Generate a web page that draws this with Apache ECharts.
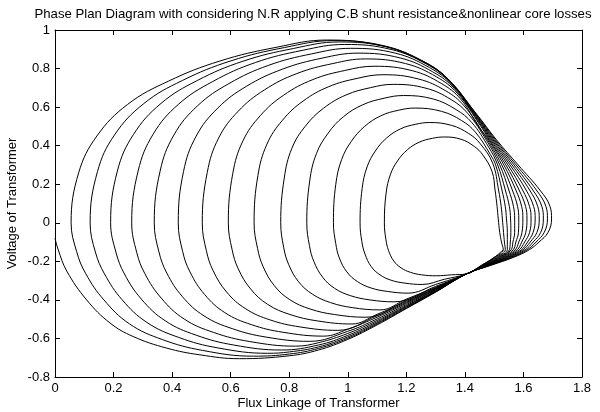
<!DOCTYPE html>
<html>
<head>
<meta charset="utf-8">
<title>Phase Plan Diagram</title>
<script src="https://cdn.jsdelivr.net/npm/echarts@6/dist/echarts.min.js"></script>
<style>
  html, body { margin: 0; padding: 0; background: #fff; }
  #phase { width: 600px; height: 412px; }
</style>
</head>
<body>
<div id="phase"></div>
<script>
// 标题 / 坐标轴名称
const titleText = "Phase Plan Diagram with considering N.R applying C.B shunt resistance&nonlinear core losses";
const xName = "Flux Linkage of Transformer";
const yName = "Voltage of Transformer";
// 刻度范围
const xRange = [0, 1.8, 0.2];
const yRange = [-0.8, 1, 0.2];

// 下半圈 (从左侧 y=0 处下行, 汇合到 (1.406,-0.265))
const bottomArcs = [
  [[0,-0.08],[0.011,-0.14],[0.04,-0.25],[0.108,-0.40],[0.188,-0.52],[0.267,-0.59],[0.381,-0.65],[0.495,-0.685],[0.63,-0.705],[0.8,-0.69],[0.9,-0.66],[1.0,-0.605],[1.1,-0.53],[1.2,-0.445],[1.3,-0.36],[1.406,-0.265]],
  [[0.055,0],[0.074,-0.15],[0.105,-0.264],[0.167,-0.4],[0.254,-0.524],[0.367,-0.606],[0.504,-0.662],[0.678,-0.692],[0.8,-0.681],[0.9,-0.652],[1.0,-0.599],[1.1,-0.525],[1.2,-0.442],[1.3,-0.358],[1.406,-0.265]],
  [[0.12,0],[0.138,-0.152],[0.169,-0.265],[0.229,-0.399],[0.314,-0.517],[0.423,-0.595],[0.556,-0.649],[0.726,-0.677],[0.8,-0.670],[0.9,-0.644],[1.0,-0.592],[1.1,-0.52],[1.2,-0.438],[1.3,-0.357],[1.406,-0.265]],
  [[0.19,0],[0.208,-0.152],[0.237,-0.265],[0.295,-0.396],[0.377,-0.509],[0.482,-0.583],[0.61,-0.634],[0.774,-0.66],[0.9,-0.634],[1.0,-0.584],[1.1,-0.514],[1.2,-0.434],[1.3,-0.355],[1.406,-0.265]],
  [[0.262,0],[0.279,-0.153],[0.307,-0.264],[0.363,-0.391],[0.441,-0.499],[0.542,-0.569],[0.665,-0.616],[0.822,-0.64],[0.9,-0.622],[1.0,-0.574],[1.1,-0.507],[1.2,-0.43],[1.3,-0.352],[1.406,-0.265]],
  [[0.339,0],[0.355,-0.151],[0.382,-0.261],[0.435,-0.383],[0.509,-0.483],[0.605,-0.549],[0.721,-0.593],[0.87,-0.615],[1.0,-0.563],[1.1,-0.499],[1.2,-0.424],[1.3,-0.349],[1.406,-0.265]],
  [[0.421,0],[0.436,-0.149],[0.461,-0.255],[0.511,-0.372],[0.58,-0.466],[0.67,-0.528],[0.779,-0.568],[0.918,-0.588],[1.0,-0.552],[1.1,-0.49],[1.2,-0.418],[1.3,-0.346],[1.406,-0.265]],
  [[0.503,0],[0.517,-0.145],[0.54,-0.248],[0.586,-0.359],[0.651,-0.446],[0.735,-0.504],[0.836,-0.54],[0.966,-0.558],[1.1,-0.482],[1.2,-0.413],[1.3,-0.343],[1.406,-0.265]],
  [[0.592,0],[0.605,-0.14],[0.626,-0.239],[0.668,-0.343],[0.727,-0.424],[0.803,-0.476],[0.896,-0.509],[1.014,-0.525],[1.1,-0.475],[1.2,-0.408],[1.3,-0.341],[1.406,-0.265]],
  [[0.68,0],[0.692,-0.134],[0.711,-0.228],[0.749,-0.326],[0.802,-0.399],[0.871,-0.447],[0.955,-0.476],[1.062,-0.49],[1.2,-0.403],[1.3,-0.338],[1.406,-0.265]],
  [[0.771,0],[0.781,-0.127],[0.798,-0.216],[0.832,-0.306],[0.88,-0.371],[0.941,-0.414],[1.015,-0.44],[1.11,-0.452],[1.2,-0.396],[1.3,-0.335],[1.406,-0.265]],
  [[0.86,0],[0.869,-0.118],[0.884,-0.2],[0.914,-0.282],[0.955,-0.34],[1.009,-0.378],[1.075,-0.4],[1.158,-0.41],[1.3,-0.33],[1.406,-0.265]],
  [[0.951,0],[0.959,-0.108],[0.971,-0.182],[0.997,-0.255],[1.033,-0.305],[1.079,-0.338],[1.135,-0.356],[1.206,-0.365],[1.3,-0.32],[1.406,-0.265]],
  [[1.042,0],[1.048,-0.097],[1.059,-0.163],[1.08,-0.227],[1.11,-0.27],[1.148,-0.298],[1.195,-0.313],[1.254,-0.32],[1.33,-0.293],[1.406,-0.265]],
  [[1.125,0],[1.13,-0.085],[1.139,-0.143],[1.157,-0.198],[1.182,-0.234],[1.214,-0.257],[1.252,-0.27],[1.302,-0.275],[1.354,-0.27],[1.406,-0.265]]
];

// 汇合点到右侧尖端
const noseRise = [
  [[1.49,-0.22],[1.565,-0.18],[1.62,-0.14],[1.653,-0.1],[1.684,-0.05],[1.696,0.02]],
  [[1.4875,-0.22],[1.56,-0.18],[1.613,-0.14],[1.643,-0.1],[1.671,-0.05],[1.682,0.02]],
  [[1.485,-0.22],[1.555,-0.18],[1.606,-0.14],[1.633,-0.1],[1.659,-0.05],[1.668,0.02]],
  [[1.4825,-0.22],[1.55,-0.18],[1.599,-0.14],[1.623,-0.1],[1.646,-0.05],[1.654,0.02]],
  [[1.48,-0.22],[1.545,-0.18],[1.593,-0.14],[1.614,-0.1],[1.633,-0.05],[1.64,0.02]],
  [[1.4775,-0.22],[1.54,-0.18],[1.586,-0.14],[1.604,-0.1],[1.621,-0.05],[1.626,0.02]],
  [[1.475,-0.22],[1.535,-0.18],[1.579,-0.14],[1.594,-0.1],[1.608,-0.05],[1.612,0.02]],
  [[1.4725,-0.22],[1.53,-0.18],[1.572,-0.14],[1.584,-0.1],[1.595,-0.05],[1.598,0.02]],
  [[1.47,-0.22],[1.525,-0.18],[1.565,-0.14],[1.574,-0.1],[1.583,-0.05],[1.584,0.02]],
  [[1.4675,-0.22],[1.52,-0.18],[1.558,-0.14],[1.564,-0.1],[1.57,-0.05],[1.57,0.02]],
  [[1.465,-0.22],[1.515,-0.18],[1.552,-0.14],[1.555,-0.1],[1.557,-0.05],[1.556,0.02]],
  [[1.4625,-0.22],[1.51,-0.18],[1.545,-0.14],[1.545,-0.1],[1.545,-0.05],[1.542,0.02]],
  [[1.46,-0.22],[1.505,-0.18],[1.538,-0.14],[1.535,-0.1],[1.532,-0.05],[1.528,0.02]],
  [[1.4575,-0.22],[1.5,-0.18],[1.531,-0.14],[1.525,-0.1],[1.519,-0.05],[1.514,0.02]]
];

// 右侧上升到顶点
const rightSide = [
  [[1.691,0.084],[1.656,0.17],[1.582,0.3],[1.508,0.43],[1.44,0.564],[1.338,0.749],[1.246,0.844],[1.109,0.921],[0.93,0.948]],
  [[1.677,0.084],[1.644,0.17],[1.575,0.3],[1.504,0.43],[1.4395,0.562],[1.342,0.747],[1.253,0.841],[1.121,0.919],[0.95,0.945]],
  [[1.663,0.084],[1.632,0.17],[1.568,0.3],[1.5,0.43],[1.439,0.558],[1.345,0.741],[1.261,0.835],[1.134,0.912],[0.97,0.938]],
  [[1.649,0.084],[1.621,0.17],[1.561,0.3],[1.496,0.43],[1.4405,0.55],[1.35,0.731],[1.269,0.823],[1.148,0.899],[0.99,0.925]],
  [[1.635,0.084],[1.609,0.17],[1.554,0.3],[1.492,0.43],[1.444,0.538],[1.357,0.715],[1.279,0.805],[1.162,0.88],[1.01,0.905]],
  [[1.621,0.084],[1.597,0.17],[1.547,0.3],[1.488,0.43],[1.447,0.524],[1.365,0.695],[1.29,0.783],[1.179,0.855],[1.035,0.88]],
  [[1.6075,0.084],[1.585,0.17],[1.54,0.3],[1.484,0.43],[1.452,0.506],[1.374,0.672],[1.303,0.757],[1.197,0.826],[1.06,0.85]],
  [[1.594,0.084],[1.574,0.17],[1.533,0.3],[1.479,0.435],[1.446,0.5],[1.386,0.641],[1.319,0.723],[1.22,0.789],[1.09,0.812]],
  [[1.58,0.084],[1.562,0.17],[1.526,0.3],[1.466,0.457],[1.397,0.607],[1.335,0.684],[1.241,0.746],[1.12,0.768]],
  [[1.566,0.084],[1.55,0.17],[1.519,0.3],[1.474,0.427],[1.41,0.567],[1.353,0.639],[1.267,0.698],[1.155,0.718]],
  [[1.552,0.084],[1.538,0.17],[1.512,0.3],[1.481,0.393],[1.423,0.521],[1.37,0.587],[1.292,0.642],[1.19,0.66]],
  [[1.538,0.084],[1.5265,0.17],[1.505,0.3],[1.487,0.354],[1.436,0.47],[1.389,0.53],[1.32,0.578],[1.23,0.595]],
  [[1.524,0.084],[1.515,0.17],[1.495,0.309],[1.452,0.411],[1.413,0.463],[1.355,0.505],[1.28,0.52]],
  [[1.51,0.084],[1.503,0.17],[1.493,0.265],[1.461,0.352],[1.432,0.396],[1.387,0.433],[1.33,0.445]]
];

// 顶点向左下回到 y=0
const topLeft = [
  [[0.755,0.91],[0.563,0.839],[0.388,0.735],[0.248,0.614],[0.143,0.45],[0.081,0.26]],
  [[0.784,0.909],[0.601,0.84],[0.435,0.738],[0.303,0.618],[0.203,0.455],[0.145,0.265]],
  [[0.814,0.904],[0.642,0.838],[0.486,0.738],[0.362,0.619],[0.268,0.458],[0.213,0.268]],
  [[0.844,0.894],[0.684,0.831],[0.539,0.733],[0.422,0.615],[0.335,0.459],[0.284,0.269]],
  [[0.876,0.876],[0.728,0.816],[0.594,0.722],[0.487,0.607],[0.406,0.455],[0.359,0.268]],
  [[0.912,0.854],[0.777,0.797],[0.654,0.708],[0.556,0.595],[0.482,0.449],[0.439,0.266]],
  [[0.949,0.826],[0.826,0.774],[0.715,0.689],[0.626,0.579],[0.559,0.44],[0.52,0.261]],
  [[0.99,0.79],[0.881,0.743],[0.781,0.662],[0.702,0.557],[0.642,0.425],[0.607,0.254]],
  [[1.032,0.749],[0.935,0.706],[0.847,0.631],[0.777,0.532],[0.724,0.408],[0.693,0.245]],
  [[1.078,0.701],[0.994,0.663],[0.917,0.594],[0.855,0.501],[0.809,0.386],[0.783,0.232]],
  [[1.124,0.646],[1.051,0.612],[0.985,0.55],[0.933,0.465],[0.893,0.359],[0.87,0.217]],
  [[1.174,0.584],[1.113,0.555],[1.057,0.499],[1.012,0.422],[0.979,0.328],[0.959,0.199]],
  [[1.232,0.511],[1.18,0.487],[1.132,0.439],[1.094,0.372],[1.066,0.29],[1.049,0.177]],
  [[1.289,0.438],[1.244,0.418],[1.203,0.378],[1.17,0.321],[1.146,0.252],[1.131,0.154]]
];

// 轨迹终点
const tailPts = [[1.4575,-0.22],[1.5,-0.18],[1.531,-0.14]];

// 按轨迹顺序拼接
let trajectory = [];
for (let i = 0; i < topLeft.length; i++) {
  trajectory = trajectory.concat(bottomArcs[i], noseRise[i], rightSide[i], topLeft[i]);
}
trajectory = trajectory.concat(bottomArcs[bottomArcs.length - 1], tailPts);

const fontName = "Liberation Sans, Arial, Helvetica, sans-serif";

function makeAxis(range, pos, showLabel) {
  return {
    type: "value",
    position: pos,
    min: range[0],
    max: range[1],
    interval: range[2],
    axisLine: { show: true, onZero: false, lineStyle: { color: "#000", width: 1 } },
    axisTick: { show: true, inside: true, length: 5, lineStyle: { color: "#000", width: 1 } },
    axisLabel: { show: showLabel, color: "#000", fontSize: 13, fontFamily: fontName, margin: 5 },
    splitLine: { show: false },
  };
}

let myChart = echarts.init(document.getElementById("phase"));

let xBottom = makeAxis(xRange, "bottom", true);
xBottom.name = xName;
xBottom.nameLocation = "middle";
xBottom.nameGap = 20;
xBottom.nameMoveOverlap = false;
xBottom.nameTextStyle = { color: "#000", fontSize: 13, fontFamily: fontName };

let yLeft = makeAxis(yRange, "left", true);
yLeft.name = yName;
yLeft.nameLocation = "middle";
yLeft.nameGap = 36;
yLeft.nameMoveOverlap = false;
yLeft.nameTextStyle = { color: "#000", fontSize: 13, fontFamily: fontName };

let option = {
  animation: false,
  backgroundColor: "#fff",
  title: {
    text: titleText,
    left: 308,
    top: 3,
    textAlign: "center",
    textStyle: { color: "#000", fontSize: 13.2, fontWeight: "normal", fontFamily: fontName },
  },
  grid: { left: 55, right: 18, top: 30, bottom: 35, outerBoundsMode: "none" },
  xAxis: [xBottom, makeAxis(xRange, "top", false)],
  yAxis: [yLeft, makeAxis(yRange, "right", false)],
  series: [
    {
      type: "line",
      data: trajectory,
      xAxisIndex: 0,
      yAxisIndex: 0,
      symbol: "none",
      smooth: 0.4,
      clip: true,
      lineStyle: { color: "#000", width: 1 },
    },
  ],
};
// 绘图
myChart.setOption(option);
</script>
</body>
</html>
